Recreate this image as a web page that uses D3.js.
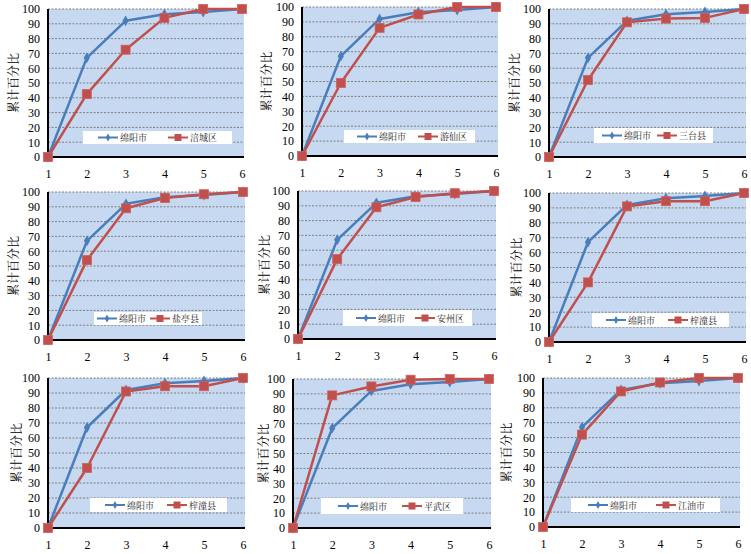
<!DOCTYPE html>
<html><head><meta charset="utf-8">
<script src="https://cdn.jsdelivr.net/npm/d3@7/dist/d3.min.js"></script>
<style>
body{margin:0;background:#fff;}
svg{display:block;}
</style></head>
<body>
<svg id="c" width="751" height="554"></svg>
<script>
// ---- data ----
const categories = [1, 2, 3, 4, 5, 6];
const yTicks = [0, 10, 20, 30, 40, 50, 60, 70, 80, 90, 100];
const yTitle = "累计百分比";
const cityName = "绵阳市";
const cityValues = [0, 67, 92, 96.5, 98, 100];
const districtNames = ["涪城区", "游仙区", "三台县", "盐亭县", "安州区", "梓潼县", "梓潼县", "平武区", "江油市"];
const districtValues = [
  [0, 42.5, 72.5, 94, 100, 100],
  [0, 49, 86, 95, 100, 100],
  [0, 52, 91, 93.5, 94, 100],
  [0, 54, 89, 96, 98.5, 100],
  [0, 54, 89, 96, 98.5, 100],
  [0, 40, 91, 94.5, 94.5, 100],
  [0, 40, 91, 94.5, 94.5, 100],
  [0, 89, 95, 99.5, 100, 100],
  [0, 62, 91, 97, 100, 100]
];

// ---- layout (pixel positions of each small panel) ----
// [left, right, top, bottom, titleX]
const panelBox = [
  [48, 242, 9, 157, 12], [302, 496, 7, 156, 265], [549, 744, 9, 157, 513],
  [48, 243, 192, 340, 12], [298, 494, 191, 339, 263], [549, 744, 193, 342, 515],
  [48, 243, 378, 528, 15], [293, 489, 379, 528, 262], [543, 738, 378, 527, 505]
];
// [boxX, boxY, boxW, boxH, blueLineX, redLineX]
const legendBox = [
  [83, 131, 149, 13, 98, 168], [344, 130, 131, 13, 357, 418], [594, 128, 119, 15, 602, 657],
  [94, 312, 108, 13, 97, 150], [343, 310, 129, 16, 356, 415], [592, 313, 137, 14, 606, 668],
  [90, 498, 137, 14, 105, 167], [321, 498, 142, 16, 338, 402], [571, 498, 149, 14, 588, 656]
];

const BLUE = "#4a7ebb", RED = "#c0504d", BG = "#c6d9f1";
const NUM_FONT = "'Liberation Serif','Times New Roman',serif";
const CJK_FONT = "'Noto Serif CJK SC','Noto Sans CJK SC',sans-serif";

const svg = d3.select("#c");

districtValues.forEach((vals, i) => {
  const [L, R, T, B, tx] = panelBox[i];
  const x = d3.scalePoint().domain(categories).range([L, R]).padding(0);
  const y = d3.scaleLinear().domain([0, 100]).range([B, T]);
  const g = svg.append("g");

  // plot area background
  g.append("rect").attr("x", L).attr("y", y(100)).attr("width", R - L + 2).attr("height", B - y(100)).attr("fill", BG);

  // gridlines
  g.append("g").selectAll("line").data(yTicks.filter(d => d > 0)).join("line")
    .attr("x1", L).attr("x2", R + 2).attr("y1", d => y(d)).attr("y2", d => y(d))
    .attr("stroke", "#7f7f7f").attr("stroke-width", 1).attr("stroke-dasharray", "2,1.5");

  // y axis
  const ya = g.append("g").attr("transform", `translate(${L},0)`)
    .call(d3.axisLeft(y).tickValues(yTicks).tickSize(0).tickPadding(8));
  ya.select(".domain").remove();
  ya.selectAll("text").attr("font-family", NUM_FONT).attr("font-size", 12).attr("fill", "#000");

  // x axis
  const xa = g.append("g").attr("transform", `translate(0,${B})`)
    .call(d3.axisBottom(x).tickSize(0).tickPadding(12));
  xa.select(".domain").remove();
  xa.selectAll("text").attr("font-family", NUM_FONT).attr("font-size", 12).attr("fill", "#000");

  // axis lines
  g.append("line").attr("x1", L).attr("x2", L).attr("y1", y(100)).attr("y2", B + 1)
    .attr("stroke", "#000").attr("stroke-width", 2);
  g.append("line").attr("x1", L - 1).attr("x2", R + 2).attr("y1", B).attr("y2", B)
    .attr("stroke", "#000").attr("stroke-width", 2);

  // y title
  g.append("text").attr("transform", `translate(${tx},${(T + B) / 2}) rotate(-90)`)
    .attr("text-anchor", "middle").attr("dominant-baseline", "central")
    .attr("font-family", CJK_FONT).attr("font-size", 12).attr("fill", "#000").text(yTitle);

  // legend
  const [lx, ly, lw, lh, bx, rx] = legendBox[i];
  const lg = g.append("g");
  lg.append("rect").attr("x", lx).attr("y", ly).attr("width", lw).attr("height", lh).attr("fill", "#fff");
  const cy = ly + lh / 2;
  lg.append("line").attr("x1", bx).attr("x2", bx + 20).attr("y1", cy).attr("y2", cy).attr("stroke", BLUE).attr("stroke-width", 2);
  lg.append("path").attr("d", d3.symbol(d3.symbolDiamond, 18)()).attr("transform", `translate(${bx + 10},${cy})`).attr("fill", BLUE);
  lg.append("text").attr("x", bx + 22).attr("y", cy).attr("dominant-baseline", "central")
    .attr("font-family", CJK_FONT).attr("font-size", 9).attr("fill", "#222").text(cityName);
  lg.append("line").attr("x1", rx).attr("x2", rx + 20).attr("y1", cy).attr("y2", cy).attr("stroke", RED).attr("stroke-width", 2);
  lg.append("rect").attr("x", rx + 10 - 3.5).attr("y", cy - 3.5).attr("width", 7).attr("height", 7).attr("fill", RED);
  lg.append("text").attr("x", rx + 22).attr("y", cy).attr("dominant-baseline", "central")
    .attr("font-family", CJK_FONT).attr("font-size", 9).attr("fill", "#222").text(districtNames[i]);

  const line = d3.line().x((d, k) => x(categories[k])).y(d => y(d));

  // city series
  g.append("path").datum(cityValues).attr("d", line).attr("fill", "none")
    .attr("stroke", BLUE).attr("stroke-width", 2.5).attr("stroke-linejoin", "round");
  g.append("g").selectAll("path").data(cityValues).join("path")
    .attr("d", d3.symbol(d3.symbolDiamond, 34)())
    .attr("transform", (d, k) => `translate(${x(categories[k])},${y(d)})`)
    .attr("fill", BLUE);

  // district series
  g.append("path").datum(vals).attr("d", line).attr("fill", "none")
    .attr("stroke", RED).attr("stroke-width", 2.5).attr("stroke-linejoin", "round");
  g.append("g").selectAll("rect").data(vals).join("rect")
    .attr("x", (d, k) => x(categories[k]) - 4.5).attr("y", d => y(d) - 4.5)
    .attr("width", 9).attr("height", 9)
    .attr("fill", RED).attr("stroke", "#d0605c").attr("stroke-width", 0.8);
});
</script>
</body></html>
